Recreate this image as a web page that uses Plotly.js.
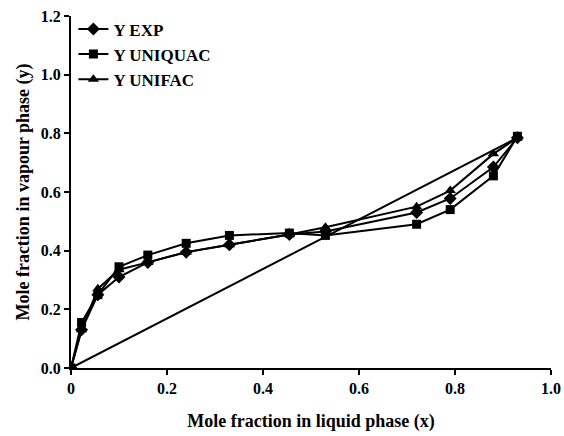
<!DOCTYPE html>
<html>
<head>
<meta charset="utf-8">
<script src="https://cdn.plot.ly/plotly-3.0.1.min.js"></script>
<style>html,body{margin:0;padding:0;background:#fff;}#chart{width:564px;height:436px;}</style>
</head>
<body>
<div id="chart"></div>
<script>
var xLiquid = [0, 0.022, 0.056, 0.10, 0.16, 0.24, 0.33, 0.455, 0.53, 0.72, 0.79, 0.88, 0.93];
var yExp = [0, 0.13, 0.25, 0.31, 0.36, 0.395, 0.42, 0.455, 0.465, 0.53, 0.578, 0.685, 0.785];
var yUniquac = [0, 0.155, 0.25, 0.345, 0.385, 0.425, 0.452, 0.46, 0.452, 0.49, 0.54, 0.655, 0.79];
var yUnifac = [0, 0.13, 0.27, 0.335, 0.36, 0.395, 0.42, 0.455, 0.48, 0.55, 0.605, 0.73, 0.785];
var diagX = [0, 0.93];
var diagY = [0, 0.785];
var xTicks = [0, 0.2, 0.4, 0.6, 0.8, 1.0];
var xTickText = ["0", "0.2", "0.4", "0.6", "0.8", "1.0"];
var yTicks = [0, 0.2, 0.4, 0.6, 0.8, 1.0, 1.2];
var yTickText = ["0.0", "0.2", "0.4", "0.6", "0.8", "1.0", "1.2"];

var fontFam = '"Liberation Serif", "Times New Roman", serif';
var lineStyle = {color: '#000', width: 2};
var traces = [
  {x: diagX, y: diagY, mode: 'lines', line: lineStyle, showlegend: false, hoverinfo: 'skip'},
  {x: xLiquid, y: yExp, name: 'Y EXP', mode: 'lines+markers', line: lineStyle,
   marker: {symbol: 'diamond', size: 10, color: '#000'}},
  {x: xLiquid, y: yUniquac, name: 'Y UNIQUAC', mode: 'lines+markers', line: lineStyle,
   marker: {symbol: 'square', size: 9, color: '#000'}},
  {x: xLiquid, y: yUnifac, name: 'Y UNIFAC', mode: 'lines+markers', line: lineStyle,
   marker: {symbol: 'triangle-up', size: 10, color: '#000'}}
];
var layout = {
  width: 564, height: 436,
  margin: {l: 71, r: 13, t: 15, b: 68},
  paper_bgcolor: '#fff', plot_bgcolor: '#fff',
  font: {family: fontFam, size: 16, color: '#000', weight: 'bold'},
  showlegend: true,
  legend: {x: 0.005, y: 1.01, xanchor: 'left', yanchor: 'top', bgcolor: 'rgba(0,0,0,0)',
           font: {family: fontFam, size: 17, color: '#000', weight: 'bold'},
           tracegroupgap: 0, itemwidth: 30},
  xaxis: {range: [0, 1.0], tickvals: xTicks, ticktext: xTickText, showgrid: false, zeroline: false,
          showline: true, linecolor: '#000', linewidth: 2, ticks: 'outside', ticklen: 5, tickwidth: 2,
          tickcolor: '#000', tickfont: {family: fontFam, size: 16, weight: 'bold'},
          title: {text: 'Mole fraction in liquid phase (x)', standoff: 18,
                  font: {family: fontFam, size: 18, weight: 'bold'}}},
  yaxis: {range: [0, 1.2], tickvals: yTicks, ticktext: yTickText, showgrid: false, zeroline: false,
          showline: true, linecolor: '#000', linewidth: 2, ticks: 'outside', ticklen: 5, tickwidth: 2,
          tickcolor: '#000', tickfont: {family: fontFam, size: 16, weight: 'bold'},
          title: {text: 'Mole fraction in vapour phase (y)', standoff: 6,
                  font: {family: fontFam, size: 18, weight: 'bold'}}}
};
Plotly.newPlot('chart', traces, layout, {displayModeBar: false, staticPlot: true});
</script>
</body>
</html>
